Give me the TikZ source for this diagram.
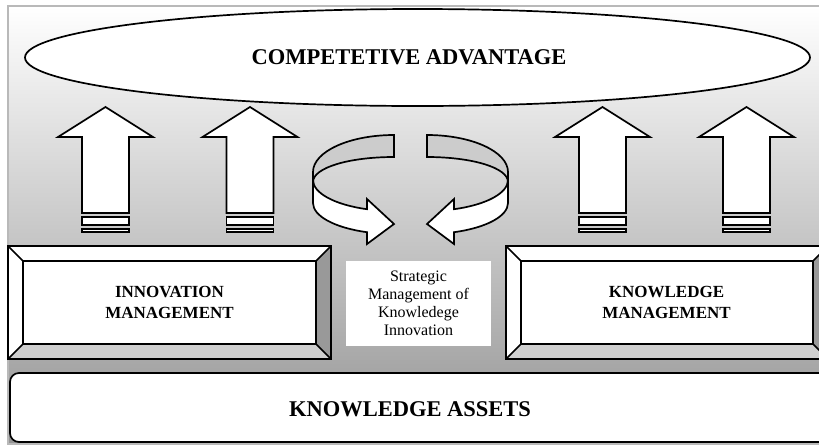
\documentclass[tikz,border=0pt]{standalone}
\usepackage{fontspec}
\setmainfont{Liberation Serif}
\usetikzlibrary{shapes.geometric}
\tikzset{
  outline/.style={draw=black, line width=1.7pt, line join=miter},
  bigtitle/.style={font=\bfseries\fontsize{22.5}{27}\selectfont, inner sep=0pt},
  boxtitle/.style={font=\bfseries\fontsize{17}{21}\selectfont, align=center, inner sep=0pt},
  midtext/.style={font=\fontsize{16}{18}\selectfont, align=center, fill=white,
    minimum width=145pt, minimum height=85pt, inner sep=0pt},
  uparrow/.pic={
    \draw[outline, fill=white] (0,0) -- (47.5,30) -- (23.5,30) -- (23.5,106)
      -- (-23.5,106) -- (-23.5,30) -- (-47.5,30) -- cycle;
    \draw[outline, fill=white] (-23.5,110) rectangle (23.5,118);
    \draw[outline, fill=white] (-23.5,122) rectangle (23.5,125);
  },
  curl/.pic={
    \draw[outline, fill=gray!40] (394,135) .. controls (349.3,135) and (313,151.6) .. (313,172)
      -- (313,182) .. controls (313,167.6) and (349.3,157) .. (394,157) -- cycle;
    \draw[outline, fill=white] (313,180) .. controls (313,193.1) and (334.7,204.8) .. (367,209.2)
      -- (367,199) -- (394,224) -- (367,244) -- (367,232.2)
      .. controls (334.7,227.8) and (313,216.1) .. (313,203) -- cycle;
  }
}
\newcommand{\bevbox}[5]{%
  \fill[white] (#1,#2) rectangle (#3,#4);
  \fill[gray!80] (#3,#2) -- (#3,#4) -- ({#3-#5},{#4-#5}) -- ({#3-#5},{#2+#5}) -- cycle;
  \fill[gray!38] (#1,#4) -- (#3,#4) -- ({#3-#5},{#4-#5}) -- ({#1+#5},{#4-#5}) -- cycle;
  \draw[outline] (#1,#2) rectangle (#3,#4);
  \draw[outline] ({#1+#5},{#2+#5}) rectangle ({#3-#5},{#4-#5});
  \draw[outline] (#1,#2) -- ({#1+#5},{#2+#5});
  \draw[outline] (#3,#2) -- ({#3-#5},{#2+#5});
  \draw[outline] (#1,#4) -- ({#1+#5},{#4-#5});
  \draw[outline] (#3,#4) -- ({#3-#5},{#4-#5});
}
\begin{document}
\begin{tikzpicture}[x=1pt,y=-1pt]
\useasboundingbox (0,0) rectangle (819,445);
\clip (0,0) rectangle (819,445);
\fill[white] (0,0) rectangle (819,445);
% frame with gradient
\draw[draw=gray!55, line width=1.5pt, top color=white, bottom color=black!42] (8,6) rectangle (840,444);
% ellipse
\node[ellipse, outline, fill=white, minimum width=785pt, minimum height=97pt, inner sep=0pt] (ca) at (417.5,57.5) {};
\node[bigtitle] (catext) at (409,57.5) {COMPETETIVE ADVANTAGE};
% up arrows
\pic at (105.5,107) {uparrow};
\pic at (250,107) {uparrow};
\pic at (602.5,107) {uparrow};
\pic at (746.5,107) {uparrow};
% curved arrows
\pic at (0,0) {curl};
\pic[xscale=-1] at (821,0) {curl};
% bevel boxes
\bevbox{8}{246}{331}{359}{15}
\bevbox{506}{246}{828}{359}{15}
\node[boxtitle] (im) at (169.5,302) {INNOVATION\\MANAGEMENT};
\node[boxtitle] (km) at (666.5,302) {KNOWLEDGE\\MANAGEMENT};
% middle text
\node[midtext] (smki) at (418.5,303.5) {Strategic\\Management of\\Knowledege\\Innovation};
% knowledge assets
\draw[outline, fill=white, rounded corners=9pt] (10,373) rectangle (840,442);
\node[bigtitle] (ka) at (410,409.5) {KNOWLEDGE ASSETS};
\end{tikzpicture}
\end{document}
